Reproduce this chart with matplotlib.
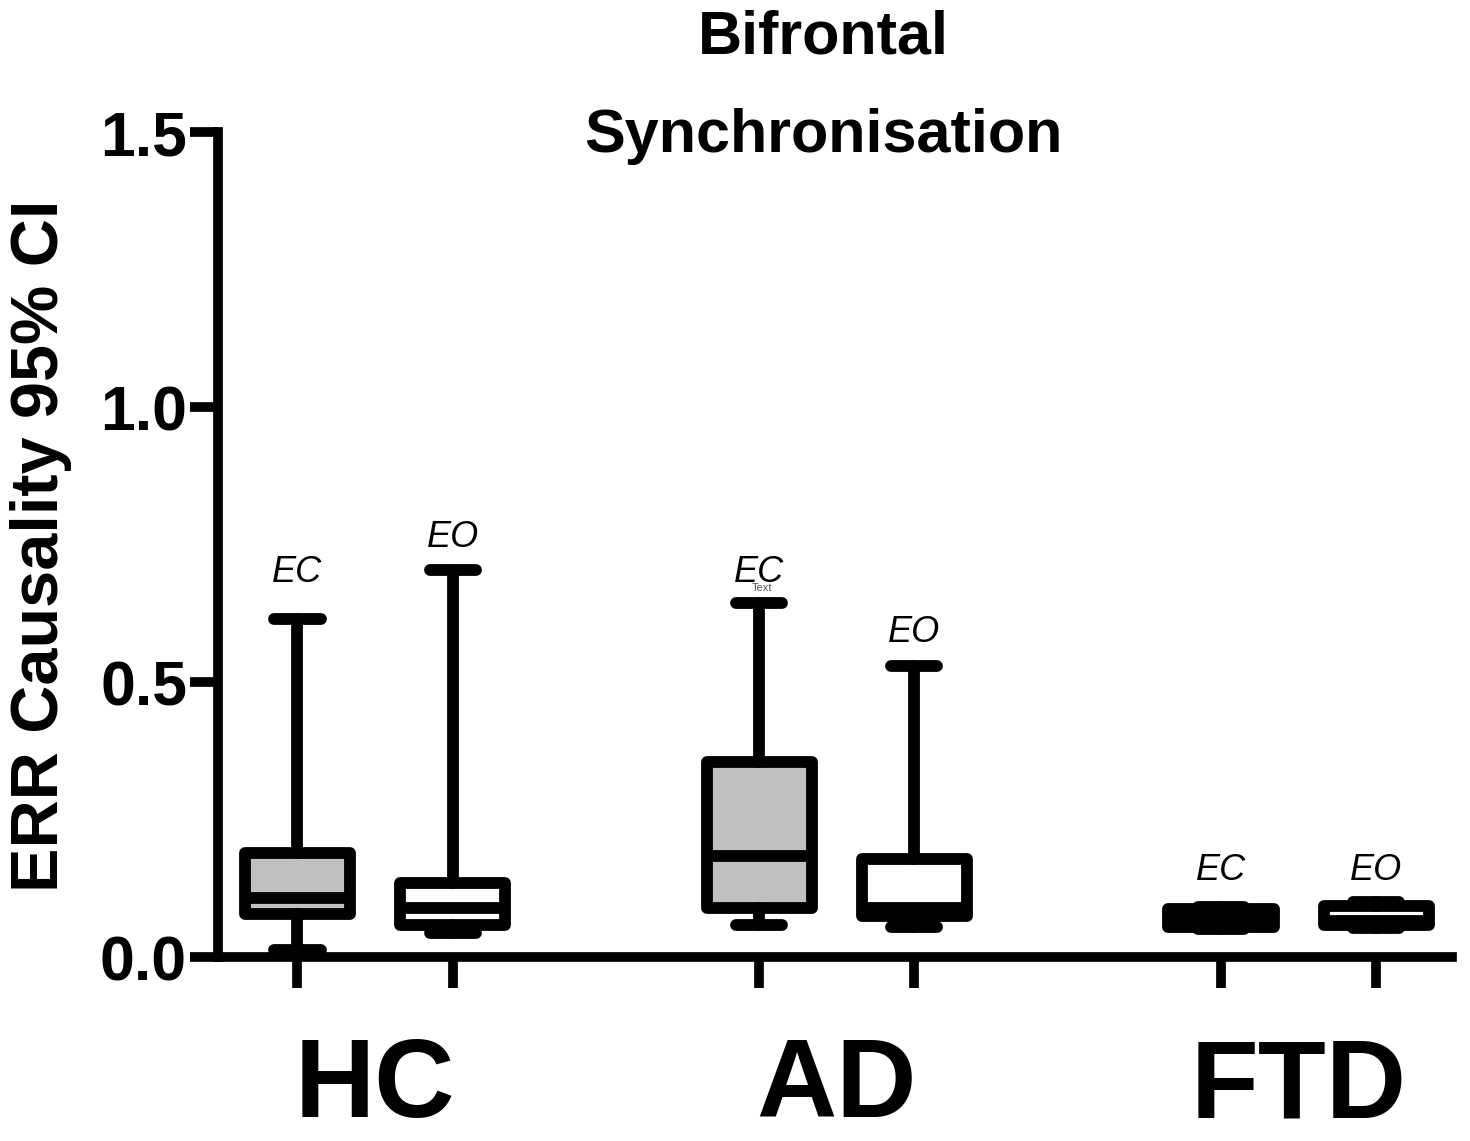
"""Bifrontal synchronisation box plot (ERR causality, EC vs EO per group)."""

import matplotlib.pyplot as plt

plt.rcParams['font.family'] = ['Liberation Sans', 'DejaVu Sans']

groups = ['HC', 'AD', 'FTD']
conditions = ['EC', 'EO']

# five-number summaries, order: HC EC, HC EO, AD EC, ...
whis_lo = [0.013, 0.045, 0.058, 0.056, 0.052, 0.053]
q1 = [0.078, 0.058, 0.089, 0.076, 0.055, 0.058]
median = [0.107, 0.089, 0.185, 0.089, 0.070, 0.066]
q3 = [0.190, 0.135, 0.356, 0.178, 0.088, 0.093]
whis_hi = [0.616, 0.705, 0.644, 0.529, 0.092, 0.100]
label_y = [0.700, 0.764, 0.700, 0.590, 0.158, 0.158]

fill = {'EC': '#c0c0c0', 'EO': 'white'}

fig = plt.figure(figsize=(14.7, 11.41), dpi=100)
ax = fig.add_axes([0.148, 0.161, 0.840, 0.723])

offset = 0.168
positions = []
stats = []
labels = []
i = 0
for g, grp in enumerate(groups):
    for c, cond in enumerate(conditions):
        positions.append(g + 1 + (offset if c else -offset))
        stats.append(dict(whislo=whis_lo[i], q1=q1[i], med=median[i],
                          q3=q3[i], whishi=whis_hi[i], fliers=[]))
        labels.append(cond)
        i += 1

lw = 8.5
line = dict(color='black', linewidth=lw, solid_capstyle='round')
parts = ax.bxp(stats, positions=positions, widths=0.228, capwidths=0.1,
               patch_artist=True, showfliers=False,
               boxprops=dict(edgecolor='black', linewidth=lw,
                             joinstyle='round'),
               medianprops=dict(color='black', linewidth=lw),
               whiskerprops=line, capprops=line)
for box, cond in zip(parts['boxes'], labels):
    box.set_facecolor(fill[cond])
for art in sum(parts.values(), []):
    art.set_clip_on(False)

for x, y, lab in zip(positions, label_y, labels):
    ax.text(x, y, lab, ha='center', va='center', fontsize=26,
            style='italic')
# stray placeholder label left in the original figure
ax.text(positions[2] + 0.005, 0.672, 'Text', ha='center', va='center',
        fontsize=8, color='#555555')

ax.set_xlim(0.659, 3.333)
ax.set_ylim(0, 1.5)
ax.set_yticks([0, 0.5, 1.0, 1.5])
ax.set_yticklabels(['0.0', '0.5', '1.0', '1.5'], fontsize=45,
                   fontweight='bold')
ax.tick_params(axis='y', length=20, width=7, pad=2)

ax.set_xticks(positions)
ax.set_xticklabels([''] * len(positions))
ax.tick_params(axis='x', which='major', length=22, width=7)
ax.set_xticks([1, 2, 3], minor=True)
ax.set_xticklabels(groups, minor=True, fontsize=80, fontweight='bold')
ax.tick_params(axis='x', which='minor', length=0, pad=57)

for side in ('top', 'right'):
    ax.spines[side].set_visible(False)
for side in ('left', 'bottom'):
    ax.spines[side].set_linewidth(7)

fig.text(0.028, 0.522, 'ERR Causality 95% CI', rotation=90, ha='center',
         va='center', fontsize=48, fontweight='bold')
fig.text(0.56, 0.967, 'Bifrontal', ha='center', va='center', fontsize=44,
         fontweight='bold')
fig.text(0.56, 0.880, 'Synchronisation', ha='center', va='center',
         fontsize=44, fontweight='bold')

fig.savefig('out.png', dpi=100)
